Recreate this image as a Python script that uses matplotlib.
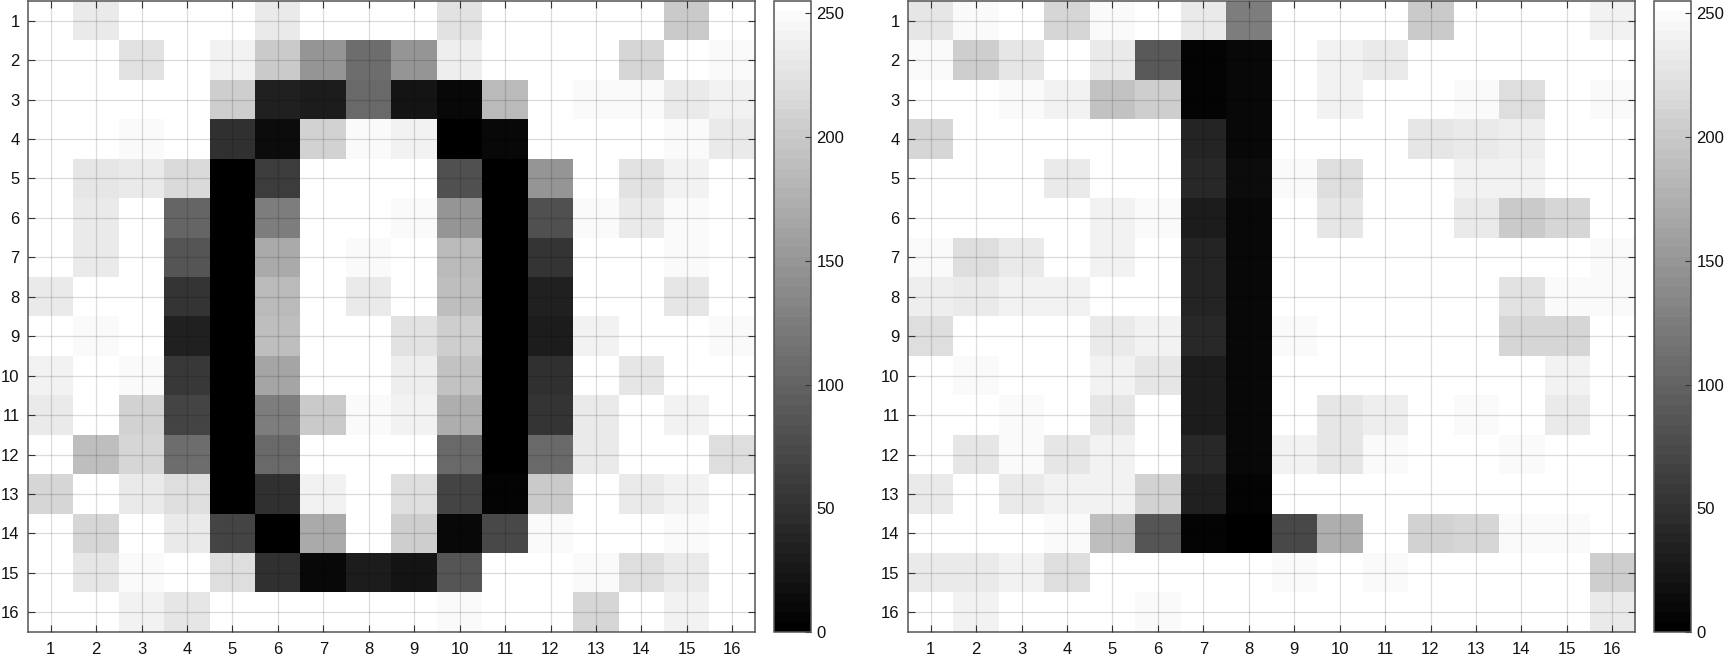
import matplotlib
matplotlib.use('Agg')
import numpy as np
import matplotlib.pyplot as plt

plt.rcParams['font.family'] = ['Liberation Sans', 'DejaVu Sans']

tick_labels = list(range(1, 17))
cbar_ticks = [0, 50, 100, 150, 200, 250]

# grey levels, one row per line
digit_zero = [
    [255, 235, 255, 255, 255, 235, 255, 255, 255, 225, 255, 255, 255, 255, 200, 255],
    [255, 255, 225, 255, 242, 200, 150, 108, 150, 238, 255, 255, 255, 212, 255, 248],
    [255, 255, 255, 255, 205, 32, 28, 105, 22, 10, 185, 255, 248, 248, 235, 242],
    [255, 255, 248, 255, 48, 15, 210, 248, 240, 0, 10, 255, 255, 255, 248, 235],
    [255, 228, 235, 218, 0, 60, 255, 255, 255, 80, 0, 150, 255, 225, 240, 255],
    [255, 235, 255, 100, 0, 125, 255, 255, 248, 150, 0, 80, 248, 232, 250, 255],
    [255, 235, 255, 85, 0, 170, 255, 248, 255, 185, 0, 55, 255, 255, 248, 255],
    [232, 255, 255, 55, 0, 185, 255, 235, 255, 190, 0, 35, 255, 255, 228, 255],
    [255, 248, 255, 35, 0, 190, 255, 255, 225, 205, 0, 30, 240, 255, 255, 248],
    [240, 255, 248, 58, 0, 165, 255, 255, 238, 195, 0, 50, 255, 228, 255, 255],
    [235, 255, 210, 68, 0, 125, 200, 248, 240, 175, 0, 55, 235, 255, 240, 255],
    [255, 190, 215, 110, 0, 105, 255, 255, 255, 105, 0, 105, 235, 255, 255, 222],
    [215, 255, 235, 222, 0, 50, 240, 255, 222, 68, 5, 200, 255, 235, 240, 255],
    [255, 215, 255, 235, 68, 0, 170, 255, 205, 8, 72, 248, 255, 255, 250, 255],
    [255, 230, 248, 255, 222, 50, 8, 30, 20, 85, 255, 255, 248, 222, 235, 255],
    [255, 255, 240, 230, 255, 255, 255, 255, 255, 248, 255, 255, 215, 255, 240, 255],
]

digit_one = [
    [228, 248, 255, 215, 248, 255, 235, 125, 255, 255, 255, 200, 255, 255, 255, 240],
    [248, 205, 230, 255, 232, 90, 5, 10, 255, 240, 232, 255, 255, 255, 255, 255],
    [255, 255, 248, 243, 195, 205, 5, 8, 255, 240, 255, 255, 248, 222, 255, 248],
    [212, 255, 255, 255, 255, 255, 38, 10, 255, 255, 255, 228, 235, 238, 255, 255],
    [255, 255, 255, 235, 255, 255, 40, 12, 250, 222, 255, 255, 240, 243, 255, 255],
    [255, 255, 255, 255, 240, 248, 28, 8, 255, 230, 255, 255, 235, 200, 212, 255],
    [248, 222, 235, 255, 240, 255, 38, 10, 255, 255, 255, 255, 255, 255, 255, 248],
    [238, 235, 242, 243, 255, 255, 36, 10, 255, 255, 255, 255, 255, 225, 248, 248],
    [222, 255, 255, 255, 235, 240, 40, 8, 248, 255, 255, 255, 255, 215, 215, 255],
    [255, 248, 255, 255, 243, 228, 28, 8, 255, 255, 255, 255, 255, 255, 240, 255],
    [255, 255, 248, 255, 228, 255, 30, 8, 255, 230, 238, 255, 248, 255, 232, 255],
    [255, 230, 248, 230, 243, 255, 42, 10, 240, 228, 248, 255, 255, 248, 255, 255],
    [235, 255, 235, 243, 243, 210, 32, 5, 255, 255, 255, 255, 255, 255, 255, 255],
    [255, 255, 255, 250, 190, 85, 5, 0, 75, 172, 255, 210, 215, 248, 248, 255],
    [235, 235, 240, 222, 255, 255, 255, 255, 248, 255, 248, 255, 255, 255, 255, 205],
    [255, 240, 255, 255, 255, 248, 255, 255, 255, 255, 255, 255, 255, 255, 255, 232],
]

W, H = 1725, 657
EDGE = '#555555'
FONT = 12


def draw_panel(fig, values, ax_left, ax_right, cb_left, cb_right):
    top, bottom = 1, 632
    ax = fig.add_axes([ax_left / W, 1 - bottom / H, (ax_right - ax_left) / W, (bottom - top) / H])
    cax = fig.add_axes([cb_left / W, 1 - bottom / H, (cb_right - cb_left) / W, (bottom - top) / H])

    im = ax.imshow(np.array(values), cmap=plt.get_cmap('gray', 64), vmin=0, vmax=255,
                   interpolation='nearest', aspect='auto')
    ax.set_xticks(range(16))
    ax.set_yticks(range(16))
    ax.set_xticklabels(tick_labels)
    ax.set_yticklabels(tick_labels)
    ax.grid(True, color='black', alpha=0.14, linewidth=0.9)
    ax.set_axisbelow(False)
    ax.tick_params(axis='x', direction='in', length=5, width=0.8, color='#333333',
                   top=True, bottom=True, labelsize=FONT, pad=7.5, labelcolor='#111111')
    ax.tick_params(axis='y', direction='in', length=5, width=0.8, color='#333333',
                   left=True, right=True, labelsize=FONT, pad=6, labelcolor='#111111')
    for spine in ax.spines.values():
        spine.set_color(EDGE)
        spine.set_linewidth(1.1)

    cb = fig.colorbar(im, cax=cax)
    cb.set_ticks(cbar_ticks)
    cb.ax.tick_params(direction='in', length=4, width=0.8, color='#333333',
                      labelsize=FONT, pad=4, labelcolor='#111111')
    cb.outline.set_edgecolor(EDGE)
    cb.outline.set_linewidth(1.1)
    return ax


fig = plt.figure(figsize=(W / 100, H / 100), dpi=100)
draw_panel(fig, digit_zero, 28, 755, 774, 811)
draw_panel(fig, digit_one, 908, 1635, 1654, 1691)
fig.savefig('out.png', dpi=100)
